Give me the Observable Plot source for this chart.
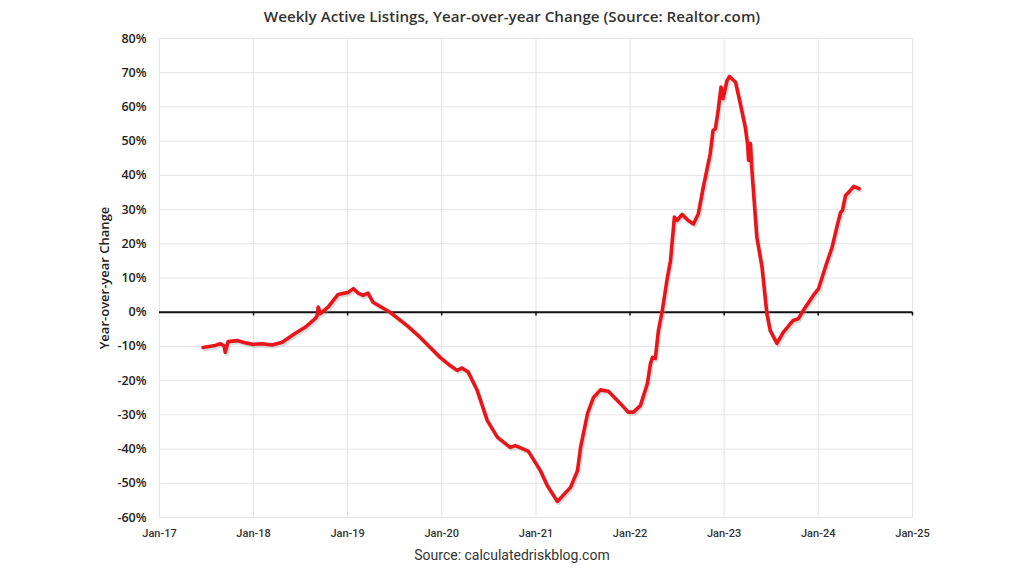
<!DOCTYPE html>
<html>
<head>
<meta charset="utf-8">
<script src="https://cdn.jsdelivr.net/npm/d3@7"></script>
<script src="https://cdn.jsdelivr.net/npm/@observablehq/plot@0.6"></script>
<style>
  html, body { margin: 0; padding: 0; background: #fff; }
  #wrap { width: 1024px; height: 576px; position: relative; overflow: hidden; }
  #title { position: absolute; top: 0; left: 0; width: 1024px; height: 32px; line-height: 32px; text-align: center; font-family: "Open Sans", sans-serif; font-weight: 600; font-size: 15.2px; color: #333; }
  #chart { position: absolute; top: 26px; left: 0; }
  #caption { position: absolute; top: 547px; left: 0; width: 1024px; text-align: center; font-family: Roboto, sans-serif; font-size: 14px; color: #333; }
  svg { display: block; }
</style>
</head>
<body>
<div id="wrap">
  <div id="title">Weekly Active Listings, Year-over-year Change (Source: Realtor.com)</div>
  <div id="chart"></div>
  <div id="caption">Source: calculatedriskblog.com</div>
</div>
<script>
const dates = [
  "2017-06-19","2017-08-05","2017-08-24","2017-09-09","2017-09-13","2017-09-24","2017-10-29","2017-11-29","2017-12-30",
  "2018-02-03","2018-03-14","2018-04-22","2018-06-11","2018-07-20","2018-08-28","2018-09-05","2018-09-09","2018-09-17","2018-10-17","2018-11-25",
  "2019-01-03","2019-01-23","2019-02-11","2019-03-02","2019-03-21","2019-04-10","2019-06-15","2019-08-20","2019-10-09","2019-12-26",
  "2020-02-03","2020-03-01","2020-03-20","2020-04-13","2020-05-18","2020-06-26","2020-08-04","2020-09-23","2020-10-13","2020-12-02",
  "2021-01-18","2021-02-14","2021-03-25","2021-05-15","2021-06-11","2021-06-23","2021-07-20","2021-08-12","2021-09-08","2021-10-09","2021-11-13","2021-12-02","2021-12-25",
  "2022-01-14","2022-02-10","2022-03-09","2022-03-21","2022-03-29","2022-04-09","2022-04-21","2022-05-05","2022-05-26","2022-06-07","2022-06-22","2022-07-02","2022-07-22","2022-08-15","2022-09-04","2022-09-23","2022-10-12","2022-11-08","2022-11-19","2022-11-28","2022-12-09","2022-12-20","2022-12-28",
  "2023-01-12","2023-01-22","2023-02-14","2023-03-05","2023-03-24","2023-04-02","2023-04-06","2023-04-13","2023-04-19","2023-05-08","2023-05-28","2023-06-16","2023-06-29","2023-07-25","2023-08-19","2023-09-26","2023-10-16","2023-11-04","2023-12-13",
  "2024-01-02","2024-01-29","2024-02-24","2024-03-15","2024-03-28","2024-04-04","2024-04-16","2024-04-29","2024-05-18","2024-06-08"
];
const yoy = [
  -10.3,-9.7,-9.2,-9.8,-11.7,-8.6,-8.3,-8.9,-9.4,
  -9.2,-9.6,-8.8,-6.2,-4.4,-1.9,-1.0,1.5,-0.4,1.5,5.2,
  5.8,6.9,5.6,4.9,5.6,2.9,0.0,-3.9,-7.3,-13.2,
  -15.6,-17.0,-16.3,-17.5,-22.9,-31.7,-36.5,-39.5,-39.0,-40.6,
  -46.3,-50.7,-55.3,-51.2,-46.3,-39.5,-29.6,-24.9,-22.7,-23.1,-25.8,-27.3,-29.2,
  -29.2,-27.3,-20.9,-15.1,-13.2,-13.5,-5.4,0.0,10.2,15.1,27.8,26.8,28.6,26.8,25.8,28.8,36.5,46.3,53.1,53.6,59.0,65.8,62.4,
  67.7,68.9,67.3,60.9,54.1,49.2,44.4,49.3,41.4,21.9,13.2,-0.5,-5.4,-9.1,-5.8,-2.4,-1.9,0.5,4.9,
  6.8,13.2,19.0,25.4,29.2,29.7,34.1,35.1,36.8,36.1
];
const xTickDates = ["2017-01-01","2018-01-01","2019-01-01","2020-01-01","2021-01-01","2022-01-01","2023-01-01","2024-01-01","2025-01-01"];
const xTickLabels = ["Jan-17","Jan-18","Jan-19","Jan-20","Jan-21","Jan-22","Jan-23","Jan-24","Jan-25"];
const yTicks = [-60,-50,-40,-30,-20,-10,0,10,20,30,40,50,60,70,80];

const data = dates.map((d, i) => ({date: new Date(d + "T00:00:00Z"), value: yoy[i]}));
const xt = xTickDates.map(d => new Date(d + "T00:00:00Z"));
const labelOf = new Map(xt.map((d, i) => [+d, xTickLabels[i]]));

const chart = Plot.plot({
  width: 1024,
  height: 518,
  marginLeft: 159,
  marginRight: 112,
  marginTop: 12,
  marginBottom: 27,
  style: {fontFamily: "Roboto, sans-serif", background: "transparent"},
  x: {type: "utc", domain: [xt[0], xt[xt.length - 1]]},
  y: {domain: [-60, 80]},
  marks: [
    Plot.gridY(yTicks, {stroke: "#e4e4e4", strokeOpacity: 1, strokeWidth: 1}),
    Plot.gridX(xt, {stroke: "#e4e4e4", strokeOpacity: 1, strokeWidth: 1}),
    Plot.ruleX(xt.slice(1), {y1: 0, y2: -1.1, stroke: "#111", strokeWidth: 1.5}),
    Plot.ruleY([0], {stroke: "#111", strokeWidth: 2}),
    Plot.axisY(yTicks, {
      tickSize: 0, tickPadding: 13,
      tickFormat: d => d + "%",
      fontSize: 12.5, fontWeight: 600, fill: "#222",
      fontFamily: "'Open Sans', sans-serif",
      label: "Year-over-year Change", labelAnchor: "center", labelOffset: 60, labelArrow: "none"
    }),
    Plot.axisX(xt, {
      tickSize: 0, tickPadding: 12,
      tickFormat: d => labelOf.get(+d),
      fontSize: 11, fontWeight: 500, fill: "#333",
      label: null
    }),
    Plot.line(data, {x: "date", y: "value", stroke: "#999", strokeOpacity: 0.35, strokeWidth: 3.5, dx: 1.5, dy: 2, curve: "linear"}),
    Plot.line(data, {x: "date", y: "value", stroke: "#e8161a", strokeWidth: 3.6, strokeLinejoin: "round", strokeLinecap: "round", curve: "linear"})
  ]
});
document.getElementById("chart").appendChild(chart);
chart.querySelectorAll("text").forEach(t => {
  if (t.textContent === "Year-over-year Change") {
    t.setAttribute("font-weight", "600");
    t.setAttribute("font-size", "13");
    t.setAttribute("fill", "#222");
    t.setAttribute("font-family", "'Open Sans', sans-serif");
  }
});
</script>
</body>
</html>
